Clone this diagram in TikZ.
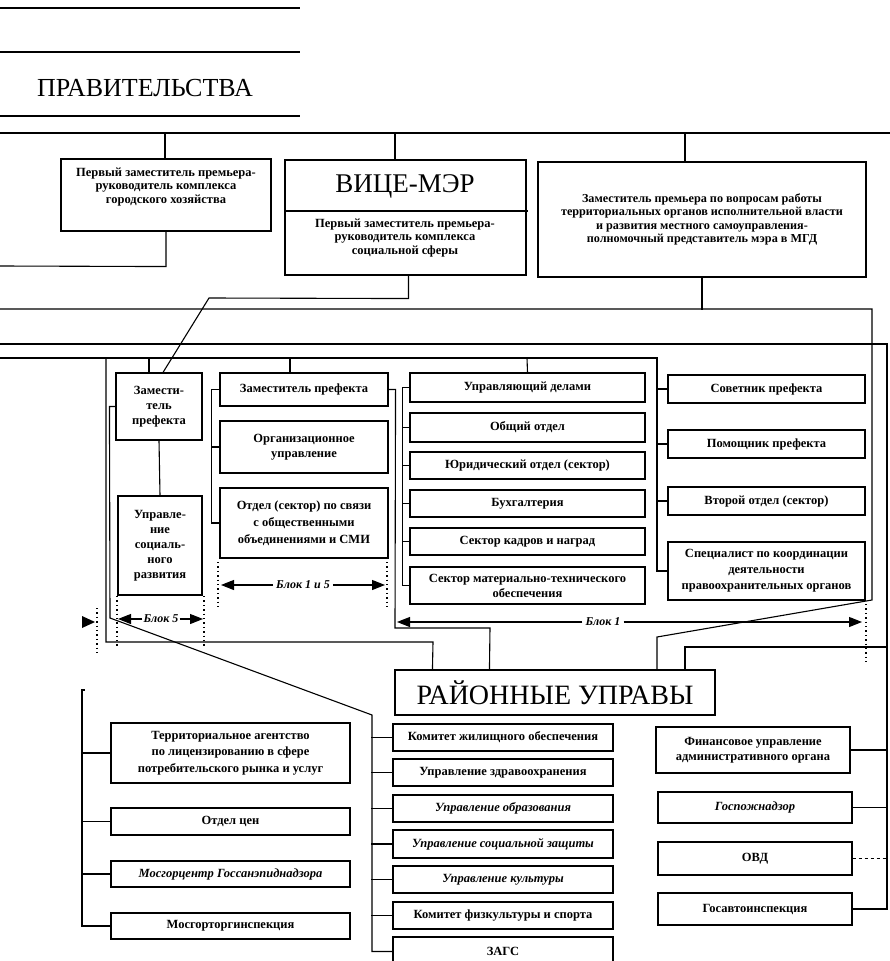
\documentclass[tikz,border=0pt]{standalone}
\usepackage{fontspec}
\setmainfont{Liberation Serif}
\usetikzlibrary{arrows.meta}
\tikzset{
  box/.style={draw,line width=1.1pt,align=center,inner sep=0pt,font=\fontsize{12.5}{15}\selectfont\bfseries},
  txt/.style={align=center,inner sep=0pt,font=\fontsize{12.5}{13.5}\selectfont\bfseries},
  ln/.style={line width=1.1pt},
  dotl/.style={line width=1.4pt,dash pattern=on 1.4pt off 3pt},
  blk/.style={font=\fontsize{12}{14}\selectfont\bfseries\itshape,inner sep=3pt},
  arr/.style={line width=1.1pt,-{Triangle[length=13pt,width=10pt]}},
  big/.style={inner sep=0pt,font=\fontsize{26}{28}\selectfont},
}
\newcommand\bx[7][]{\node[box,minimum width={(#5-#3)*1pt},minimum height={(#6-#4)*1pt},#1] (#2) at ({(#3+#5)/2},{(#4+#6)/2}) {#7};}
\begin{document}
\begin{tikzpicture}[x=1pt,y=-1pt]
\useasboundingbox (0,0) rectangle (890,961);
% ---------- top ----------
\draw[ln] (0,8) -- (300,8);
\draw[ln] (0,52) -- (300,52);
\node[big] (prav) at (145,88) {ПРАВИТЕЛЬСТВА};
\draw[ln] (0,116) -- (300,116);
\draw[ln] (0,133) -- (890,133);

\bx{A}{61}{159}{271}{231}{}
\node[txt] (At) at (166,187) {Первый заместитель премьера-\\руководитель комплекса\\городского хозяйства};
\bx{B}{285}{160}{526}{275}{}
\draw[ln] (285,211) -- (528,211);
\node[big,font=\fontsize{27}{28}\selectfont] (vm) at (405,186) {ВИЦЕ-МЭР};
\node[txt] (Bt) at (405,238) {Первый заместитель премьера-\\руководитель комплекса\\социальной сферы};
\bx[font=\fontsize{12.2}{13.3}\selectfont\bfseries]{C}{538}{162}{866}{277}{Заместитель премьера по вопросам работы\\территориальных органов исполнительной власти\\и развития местного самоуправления-\\полномочный представитель мэра в МГД}

% ---------- prefecture ----------
\bx{Z1}{116}{373}{202}{440}{Замести-\\тель\\префекта}
\bx{Usr}{118}{496}{202}{595}{Управле-\\ние\\социаль-\\ного\\развития}
\bx{Z2}{220}{373}{388}{406}{Заместитель префекта}
\bx{Org}{220}{421}{388}{473}{Организационное\\управление}
\bx[font=\fontsize{12.5}{17}\selectfont\bfseries]{Otd}{220}{488}{388}{558}{Отдел (сектор) по связи\\с общественными\\объединениями и СМИ}
\bx{UD}{410}{373}{645}{402}{Управляющий делами}
\bx{Obsh}{410}{413}{645}{442}{Общий отдел}
\bx{Yur}{410}{452}{645}{479}{Юридический отдел (сектор)}
\bx{Buh}{410}{490}{645}{517}{Бухгалтерия}
\bx{Kadr}{410}{528}{645}{555}{Сектор кадров и наград}
\bx{Smt}{410}{567}{645}{604}{Сектор материально-технического\\обеспечения}
\bx{Sov}{668}{375}{865}{403}{Советник префекта}
\bx{Pom}{668}{430}{865}{458}{Помощник префекта}
\bx{Vtor}{668}{487}{865}{515}{Второй отдел (сектор)}
\bx[font=\fontsize{12.5}{16}\selectfont\bfseries]{Spec}{668}{542}{865}{600}{Специалист по координации\\деятельности\\правоохранительных органов}

% ---------- district ----------
\bx[font=\fontsize{28}{30}\selectfont]{RU}{395}{670}{715}{715}{РАЙОННЫЕ УПРАВЫ}
\bx[font=\fontsize{12.5}{16.5}\selectfont\bfseries]{Tag}{111}{723}{350}{783}{Территориальное агентство\\по лицензированию в сфере\\потребительского рынка и услуг}
\bx{Otc}{111}{808}{350}{835}{Отдел цен}
\bx{Mcen}{111}{861}{350}{887}{\itshape Мосгорцентр Госсанэпиднадзора}
\bx{Mtorg}{111}{913}{350}{939}{Мосгорторгинспекция}
\bx{Kzh}{393}{724}{613}{751}{Комитет жилищного обеспечения}
\bx{Uzdr}{393}{759}{613}{786}{Управление здравоохранения}
\bx{Uobr}{393}{795}{613}{822}{\itshape Управление образования}
\bx{Usoc}{393}{830}{613}{858}{\itshape Управление социальной защиты}
\bx{Ukul}{393}{866}{613}{893}{\itshape Управление культуры}
\bx{Kfiz}{393}{902}{613}{929}{Комитет физкультуры и спорта}
\bx{Zags}{393}{937}{613}{966}{ЗАГС}
\bx{Fin}{656}{727}{850}{773}{Финансовое управление\\административного органа}
\bx{Gpn}{658}{792}{852}{823}{\itshape Госпожнадзор}
\bx{Ovd}{658}{842}{852}{875}{ОВД}
\bx{Gav}{658}{893}{852}{925}{Госавтоинспекция}

\coordinate (RX) at (887,344);
\coordinate (RU1) at (887,647);

% ---------- connectors ----------
\draw[ln] (165,133) |- (A.north);
\draw[ln] (395,133) |- (B.north);
\draw[ln] (685,133) |- (C.north);
\draw[ln] (A.south) -- ++(0,35) -- (0,266);
\draw[ln] ([xshift=3pt]B.south) -- ++(0,23) -- (209,298) -- ([xshift=4pt]Z1.north);
\draw[ln] (C.south) -- ++(0,32);
\draw[ln] (0,309) -- (872,309) -- (872,600) -- (657,637) -- ([xshift=102pt]RU.north);
\draw[ln] (0,344) -- (RX) |- (Gav.east);
\draw[ln] (0,358) -- (657,358) |- (Spec.west);
\foreach \n in {Sov,Pom,Vtor} \draw[ln] (\n.west) -- ++(-11,0);
\draw[ln] (149,358) |- (Z1.north);
\draw[ln] (290,358) |- (Z2.north);
\draw[ln] (527,358) -- (UD.north);
\draw[ln] (106,358) -- (106,642) -- (433,642) -- ([xshift=38pt]RU.north west);
\draw[ln] (Z1.south) -- (Usr.north);
\draw[ln] (Z1.west) -- ++(-6,0) -- (110,618) -- (372,715) |- (Zags.west);
\foreach \n in {Kzh,Uzdr,Uobr,Usoc,Ukul,Kfiz} \draw[ln] (\n.west) -- ++(-21,0);
\draw[ln] (Z2.west) -- ++(-8,0) |- (Otd.west);
\draw[ln] (Org.west) -- ++(-8,0);
\draw[ln] (Z2.east) -- ++(7,0) -- (395,628) -- (490,628) -- ([xshift=95pt]RU.north west);
\draw[ln] (UD.west) -- ++(-7,0) |- (Smt.west);
\foreach \n in {Obsh,Yur,Buh,Kadr} \draw[ln] (\n.west) -- ++(-7,0);
\draw[ln] ([xshift=130pt]RU.north) |- (RU1);
\draw[ln] (85,690) -- (82,690) |- (Mtorg.west);
\foreach \n in {Tag,Otc,Mcen} \draw[ln] (\n.west) -- ++(-29,0);
\draw[ln] (Fin.east) -- (Fin.east -| RX);
\draw[ln] (Gpn.east) -- (Gpn.east -| RX);
\draw[ln,dashed] (Ovd.east) -- (Ovd.east -| RX);

% ---------- blocks ----------
\draw[dotl] (218,562) -- (218,608);
\draw[dotl] (387,562) -- (387,610);
\node[blk] (b15) at (303,585) {Блок 1 и 5};
\draw[arr] (b15.west) -- (221,585);
\draw[arr] (b15.east) -- (385,585);
\draw[dotl] (117,596) -- (117,646);
\draw[dotl] (204,596) -- (204,648);
\draw[dotl] (97,608) -- (97,654);
\node[blk,inner sep=1pt] (b5) at (161,619) {Блок 5};
\draw[arr] (b5.west) -- (118,619);
\draw[arr] (b5.east) -- (203,619);
\fill (82,616) -- (95,622) -- (82,628) -- cycle;
\node[blk] (b1) at (603,622) {Блок 1};
\draw[arr] (b1.west) -- (397,622);
\draw[arr] (b1.east) -- (862,622);
\draw[dotl] (866,604) -- (866,662);
\end{tikzpicture}
\end{document}
